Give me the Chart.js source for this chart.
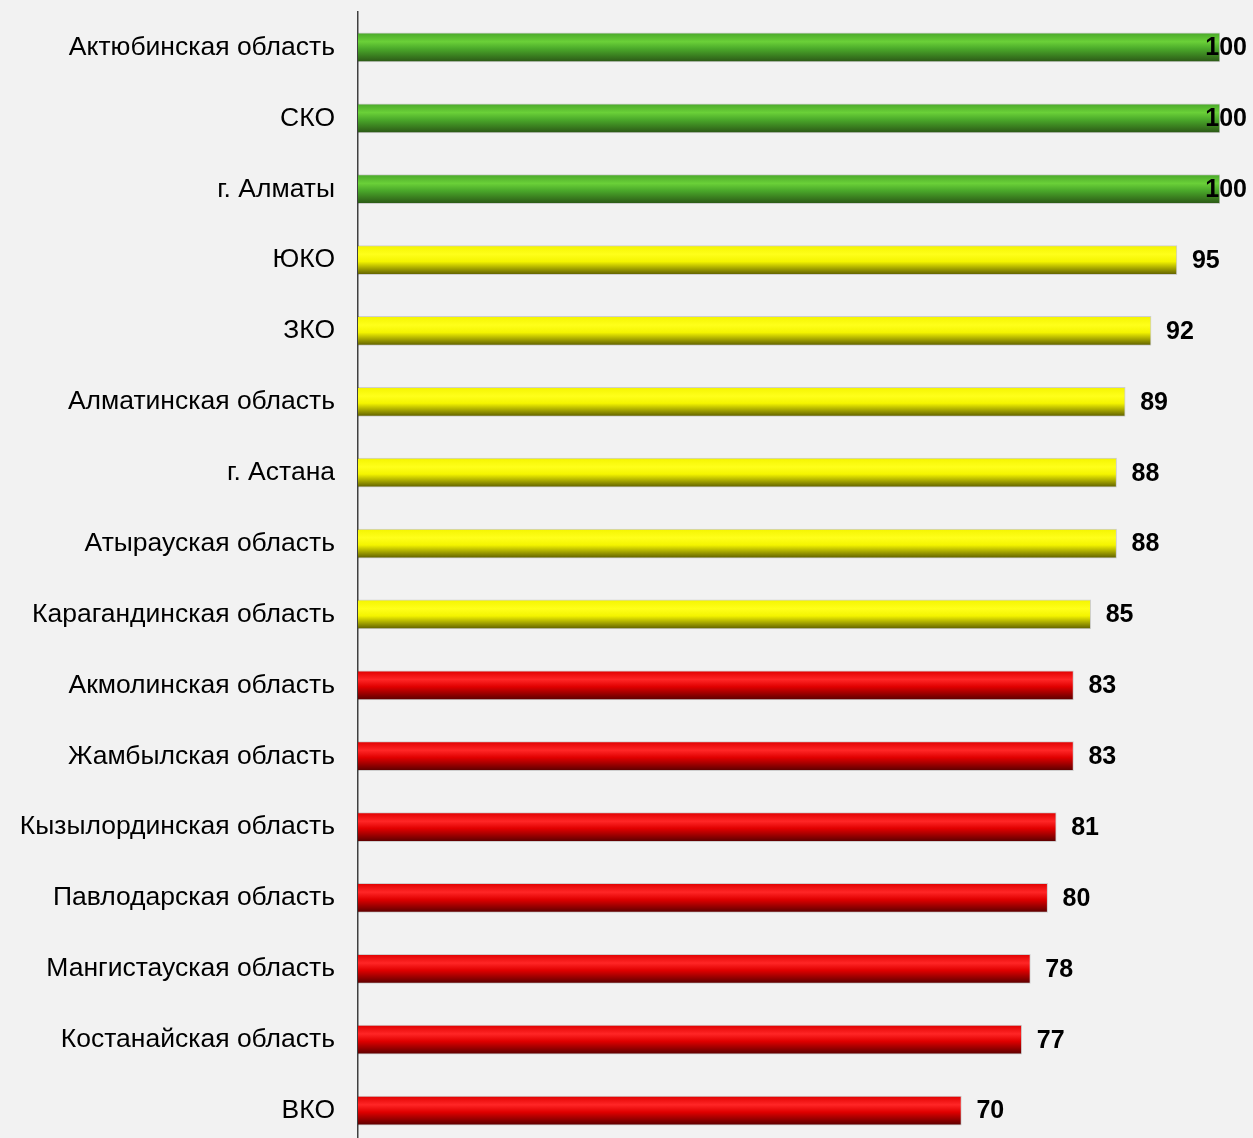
<!DOCTYPE html>
<html>
<head>
<meta charset="utf-8">
<script src="https://cdn.jsdelivr.net/npm/chart.js@4.4.0/dist/chart.umd.min.js"></script>
<style>
    html, body { margin: 0; padding: 0; background: #f2f2f2; overflow: hidden; }
    canvas { display: block; }
</style>
</head>
<body>
<canvas id="regionChart" width="1253" height="1146"></canvas>
<script>
// Data
const regions = [
    'Актюбинская область', 'СКО', 'г. Алматы', 'ЮКО', 'ЗКО',
    'Алматинская область', 'г. Астана', 'Атырауская область',
    'Карагандинская область', 'Акмолинская область', 'Жамбылская область',
    'Кызылординская область', 'Павлодарская область', 'Мангистауская область',
    'Костанайская область', 'ВКО'
];
const scores = [100, 100, 100, 95, 92, 89, 88, 88, 85, 83, 83, 81, 80, 78, 77, 70];

// colour stops per group: top, highlight, bottom
const palettes = {
    green:  ['#4aa82a', '#6ad038', '#2b5716'],
    yellow: ['#f4f400', '#ffff1a', '#5e5e00'],
    red:    ['#e00000', '#ff2626', '#5a0000']
};

function groupOf(v) {
    if (v >= 100) return 'green';
    if (v >= 85) return 'yellow';
    return 'red';
}

function barFill(ctx) {
    const chart = ctx.chart;
    const v = scores[ctx.dataIndex];
    const p = palettes[groupOf(v)];
    if (!chart.chartArea || !chart.scales.y) return p[1];
    const yc = chart.scales.y.getPixelForValue(ctx.dataIndex);
    const g = chart.ctx.createLinearGradient(0, yc - 14.5, 0, yc + 14.5);
    g.addColorStop(0, p[0]);
    g.addColorStop(0.3, p[1]);
    g.addColorStop(0.55, p[0]);
    g.addColorStop(1, p[2]);
    return g;
}

// value labels
const valueLabels = {
    id: 'valueLabels',
    afterDatasetsDraw(chart) {
        const c = chart.ctx;
        const meta = chart.getDatasetMeta(0);
        c.save();
        c.font = 'bold 25px "Liberation Sans", Arial, sans-serif';
        c.fillStyle = '#000';
        c.textBaseline = 'middle';
        c.textAlign = 'left';
        meta.data.forEach((bar, i) => {
            const txt = String(scores[i]);
            const w = c.measureText(txt).width;
            let x = bar.x + 15;
            if (x + w > 1247) x = 1247 - w;
            c.fillText(txt, x, bar.y + 1);
        });
        c.restore();
    }
};

const ctx = document.getElementById('regionChart').getContext('2d');
new Chart(ctx, {
    type: 'bar',
    data: {
        labels: regions,
        datasets: [{
            data: scores,
            backgroundColor: barFill,
            borderColor: 'rgba(0,0,0,0.15)',
            borderWidth: 1,
            barThickness: 29
        }]
    },
    options: {
        indexAxis: 'y',
        responsive: false,
        animation: false,
        layout: { padding: { top: 12, right: 33, bottom: 0, left: 0 } },
        scales: {
            x: {
                display: false,
                min: 0,
                max: 100
            },
            y: {
                afterFit(scale) { scale.width = 358; scale.paddingTop = 0; scale.paddingBottom = 0; },
                grid: { display: false, drawTicks: false },
                border: { display: true, color: '#404040', width: 1.5 },
                ticks: {
                    color: '#000',
                    padding: 23,
                    autoSkip: false,
                    font: { family: '"Liberation Sans", Arial, sans-serif', size: 26.5 }
                }
            }
        },
        plugins: {
            legend: { display: false },
            tooltip: { enabled: false }
        }
    },
    plugins: [valueLabels]
});
</script>
</body>
</html>
